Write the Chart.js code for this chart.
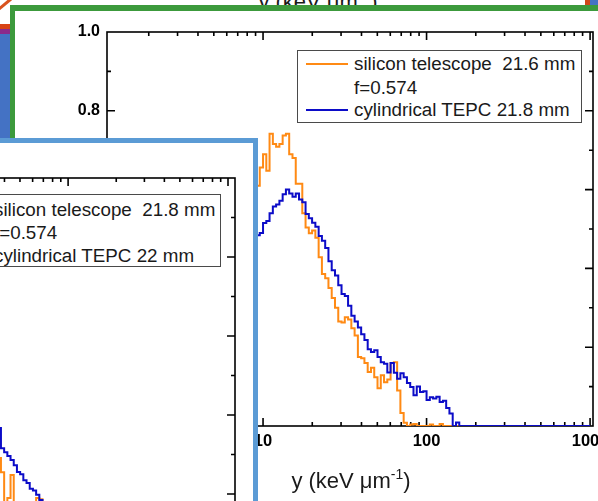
<!DOCTYPE html>
<html>
<head>
<meta charset="utf-8">
<script src="https://cdn.jsdelivr.net/npm/chart.js@4.4.0/dist/chart.umd.min.js"></script>
<style>
html,body{margin:0;padding:0;width:598px;height:501px;overflow:hidden;background:#fff;}
body{position:relative;font-family:"Liberation Sans",Arial,sans-serif;color:#1a1a1a;}
.abs{position:absolute;}
.title{font-size:22px;line-height:26px;white-space:nowrap;text-align:center;width:240px;}
.title sup{font-size:14px;line-height:0;vertical-align:9px;}
.legend{position:absolute;box-sizing:border-box;border:1px solid #4a4a4a;background:#fff;}
.legend .txt{position:absolute;font-size:18.8px;line-height:22px;white-space:pre;color:#1a1a1a;}
.legend .smp{position:absolute;height:2px;width:42px;}
#green{left:10px;top:5px;width:640px;height:560px;box-sizing:border-box;border-top:6px solid #3c9a3c;border-left:5px solid #3c9a3c;background:#fff;}
#front{left:-10px;top:138px;width:268px;height:400px;box-sizing:border-box;border-top:5px solid #5b9bd5;border-right:5px solid #5b9bd5;background:#fff;overflow:hidden;}
</style>
</head>
<body>
<div class="abs title" id="backTitle" style="left:198px;top:-11px;">y (keV μm<sup>-1</sup>)</div>
<svg class="abs" style="left:0;top:0" width="12" height="10"><line x1="-1" y1="9" x2="11" y2="-1" stroke="#d9531e" stroke-width="3"/></svg>
<div class="abs" style="left:0;top:24px;width:10px;height:5px;background:#d84315"></div>
<div class="abs" style="left:0;top:29px;width:10px;height:5px;background:#8b2a8b"></div>
<div class="abs" style="left:0;top:34px;width:10px;height:104px;background:#4472c4"></div>
<div class="abs" style="left:585px;top:0;width:5px;height:5px;background:#d0471a"></div>
<div class="abs" style="left:590px;top:0;width:8px;height:5px;background:#4472c4"></div>
<div class="abs" id="green"></div>
<canvas class="abs" id="mainChart" width="660" height="501" style="left:0;top:0;width:660px;height:501px;"></canvas>
<div class="abs title" id="mainTitle" style="left:231px;top:468px;">y (keV μm<sup>-1</sup>)</div>
<div class="legend" id="mainLegend" style="left:297px;top:50px;width:285px;height:73px;"></div>
<div class="abs" id="front">
  <canvas class="abs" id="frontChart" width="553" height="460" style="left:-290px;top:0;width:553px;height:460px;"></canvas>
  <div class="legend" id="frontLegend" style="left:-53px;top:51px;width:284px;height:73px;"></div>
</div>
<script>
// ---------------- data ----------------
// histogram bin left edges (keV/um), main panel
const binEdges = [6.310, 6.607, 6.918, 7.244, 7.586, 7.943, 8.318, 8.710, 9.120,
  9.550, 10.00, 10.47, 10.96, 11.48, 12.02, 12.59, 13.18, 13.80, 14.45,
  15.14, 15.85, 16.60, 17.38, 18.20, 19.05, 19.95, 20.89, 21.88, 22.91,
  23.99, 25.12, 26.30, 27.54, 28.84, 30.20, 31.62, 33.11, 34.67, 36.31,
  38.02, 39.81, 41.69, 43.65, 45.71, 47.86, 50.12, 52.48, 54.95, 57.54,
  60.26, 63.10, 66.07, 69.18, 72.44, 75.86, 79.43, 83.18, 87.10, 91.20,
  95.50, 100.0, 104.7, 109.6, 114.8, 120.2, 125.9, 131.8, 138.0, 144.5,
  151.4, 158.5, 166.0, 173.8, 1000];
// cylindrical TEPC 21.8 mm
const mainTepcValues = [0.31, 0.33, 0.345, 0.37, 0.38, 0.405, 0.42, 0.44, 0.453,
  0.484, 0.49, 0.515, 0.52, 0.54, 0.557, 0.562, 0.572, 0.588, 0.60,
  0.59, 0.582, 0.59, 0.575, 0.568, 0.538, 0.527, 0.516, 0.506, 0.482,
  0.47, 0.452, 0.418, 0.395, 0.382, 0.357, 0.335, 0.33, 0.305, 0.28,
  0.265, 0.25, 0.233, 0.218, 0.195, 0.188, 0.192, 0.175, 0.162, 0.158,
  0.136, 0.16, 0.135, 0.12, 0.134, 0.124, 0.109, 0.099, 0.078, 0.1,
  0.086, 0.088, 0.066, 0.073, 0.07, 0.074, 0.061, 0.064, 0.046, 0.032,
  0, 0.009, 0, 0, 0];
// silicon telescope 21.6 mm, f=0.574
const mainSiliconValues = [0.36, 0.38, 0.405, 0.43, 0.45, 0.475, 0.5, 0.52, 0.552,
  0.61, 0.656, 0.69, 0.648, 0.742, 0.716, 0.709, 0.716, 0.737, 0.742,
  0.69, 0.68, 0.615, 0.615, 0.54, 0.504, 0.489, 0.496, 0.478, 0.428,
  0.386, 0.375, 0.35, 0.325, 0.3, 0.265, 0.263, 0.276, 0.27, 0.248,
  0.23, 0.175, 0.172, 0.16, 0.137, 0.148, 0.124, 0.096, 0.129, 0.111,
  0.118, 0.16, 0.162, 0.09, 0.033, 0.008, 0, 0.004, 0.005, 0,
  0, 0, 0, 0.004, 0, 0, 0.005, 0, 0, 0,
  0, 0, 0, 0, 0];
// front (overlapping) panel
const frontBinEdges = [30.20, 31.62, 33.11, 34.67, 36.31, 38.02, 39.81, 41.69, 43.65,
  45.71, 47.86, 50.12, 52.48, 54.95, 57.54, 60.26, 63.10, 66.07, 69.18,
  72.44, 75.86, 79.43, 83.18, 87.10, 91.20, 95.50, 100.0, 104.7, 109.6,
  114.8, 120.2, 125.9, 131.8, 138.0, 144.5, 151.4, 158.5, 166.0, 173.8, 1000];
// cylindrical TEPC 22 mm
const frontTepcValues = [0.45, 0.43, 0.415, 0.395, 0.38, 0.367, 0.316, 0.306, 0.296,
  0.286, 0.273, 0.256, 0.25, 0.235, 0.228, 0.213, 0.209, 0.198, 0.185,
  0.176, 0.165, 0.158, 0.14, 0.146, 0.13, 0.121, 0.11, 0.104, 0.092,
  0.088, 0.075, 0.07, 0.058, 0.047, 0.035, 0.02, 0.008, 0, 0, 0];
// silicon telescope 21.8 mm, f=0.574
const frontSiliconValues = [0.42, 0.385, 0.36, 0.33, 0.31, 0.291, 0.255, 0.175, 0.19,
  0.248, 0.168, 0.152, 0.171, 0.143, 0.16, 0.131, 0.152, 0.19, 0.187,
  0.12, 0.104, 0.06, 0.022, 0.005, 0, 0, 0, 0, 0,
  0, 0, 0, 0, 0, 0, 0, 0, 0, 0, 0];

const xMajorTicks = [10, 100, 1000];
const xMinorTicks = [2, 3, 4, 5, 6, 7, 8, 9, 20, 30, 40, 50, 60, 70, 80, 90,
  200, 300, 400, 500, 600, 700, 800, 900];
const yMajorTicks = [0, 0.2, 0.4, 0.6, 0.8, 1.0];
const yMinorTicks = [0.1, 0.3, 0.5, 0.7, 0.9];

const mainLegendLabels = ['silicon telescope  21.6 mm', 'f=0.574', 'cylindrical TEPC 21.8 mm'];
const frontLegendLabels = ['silicon telescope  21.8 mm', 'f=0.574', 'cylindrical TEPC 22 mm'];

// ---------------- styles ----------------
const ORANGE = '#ff8a14';
const BLUE = '#0c0cc8';
const FONT = '"Liberation Sans", Arial, sans-serif';

const frameTicks = {
  id: 'frameTicks',
  beforeDatasetsDraw(chart, args, o) {
    const {ctx, chartArea: a, scales} = chart;
    const xs = scales.x, ys = scales.y;
    ctx.save();
    ctx.strokeStyle = '#000';
    ctx.lineWidth = 1.6;
    ctx.strokeRect(a.left, a.top, a.right - a.left, a.bottom - a.top);
    ctx.beginPath();
    const xt = (vals, len) => vals.forEach(v => {
      const p = xs.getPixelForValue(v);
      if (p < a.left + 1 || p > a.right - 1) return;
      ctx.moveTo(p, a.bottom); ctx.lineTo(p, a.bottom - len);
      ctx.moveTo(p, a.top); ctx.lineTo(p, a.top + len);
    });
    const yt = (vals, len) => vals.forEach(v => {
      const p = ys.getPixelForValue(v);
      if (p < a.top + 1 || p > a.bottom - 1) return;
      ctx.moveTo(a.left, p); ctx.lineTo(a.left + len, p);
      ctx.moveTo(a.right, p); ctx.lineTo(a.right - len, p);
    });
    xt(xMajorTicks, 8); xt(xMinorTicks, 4);
    yt(yMajorTicks, 8); yt(yMinorTicks, 4);
    ctx.stroke();
    ctx.restore();
  }
};

function makeChart(id, edges, tepc, silicon, geo) {
  const pts = ys => edges.map((x, i) => ({x: x, y: ys[i]}));
  const c = document.getElementById(id);
  return new Chart(c, {
    type: 'line',
    data: {
      datasets: [
        {data: pts(tepc), borderColor: BLUE, borderWidth: 2, stepped: 'after', pointRadius: 0, fill: false},
        {data: pts(silicon), borderColor: ORANGE, borderWidth: 2, stepped: 'after', pointRadius: 0, fill: false}
      ]
    },
    options: {
      responsive: false, animation: false, events: [],
      layout: {padding: {left: 0, right: geo.padRight, top: geo.padTop, bottom: 0}},
      plugins: {legend: {display: false}, tooltip: {enabled: false}},
      scales: {
        x: {
          type: 'logarithmic', min: geo.xMin, max: geo.xMax,
          grid: {display: false, drawTicks: false}, border: {display: false},
          afterBuildTicks: s => { s.ticks = xMajorTicks.map(v => ({value: v})); },
          afterFit: s => { s.height = geo.xAxisH; },
          ticks: {autoSkip: false, maxRotation: 0, padding: 6, color: '#000',
            font: {family: FONT, size: 16.5, weight: 'bold'}, callback: v => String(v)}
        },
        y: {
          type: 'linear', min: 0, max: 1,
          grid: {display: false, drawTicks: false}, border: {display: false},
          afterBuildTicks: s => { s.ticks = yMajorTicks.map(v => ({value: v})); },
          afterFit: s => { s.width = geo.yAxisW; },
          ticks: {padding: 7, color: '#000', font: {family: FONT, size: 16, weight: 'bold'},
            callback: v => Number(v).toFixed(1)}
        }
      }
    },
    plugins: [frameTicks]
  });
}

makeChart('mainChart', binEdges, mainTepcValues, mainSiliconValues,
  {xMin: 1.111, xMax: 1042, padRight: 67, padTop: 32, xAxisH: 75, yAxisW: 107});
makeChart('frontChart', frontBinEdges, frontTepcValues, frontSiliconValues,
  {xMin: 1.01, xMax: 1106, padRight: 18, padTop: 35, xAxisH: 30, yAxisW: 49});

function buildLegend(id, labels, rows) {
  const box = document.getElementById(id);
  const colors = [ORANGE, null, BLUE];
  labels.forEach((t, i) => {
    if (colors[i]) {
      const s = document.createElement('div');
      s.className = 'smp';
      s.style.left = '8px';
      s.style.top = (rows[i] - 1) + 'px';
      s.style.background = colors[i];
      box.appendChild(s);
    }
    const d = document.createElement('div');
    d.className = 'txt';
    d.style.left = '56px';
    d.style.top = (rows[i] - 11) + 'px';
    d.textContent = t;
    box.appendChild(d);
  });
}
buildLegend('mainLegend', mainLegendLabels, [13, 37, 59]);
buildLegend('frontLegend', frontLegendLabels, [15, 38, 61]);
</script>
</body>
</html>
